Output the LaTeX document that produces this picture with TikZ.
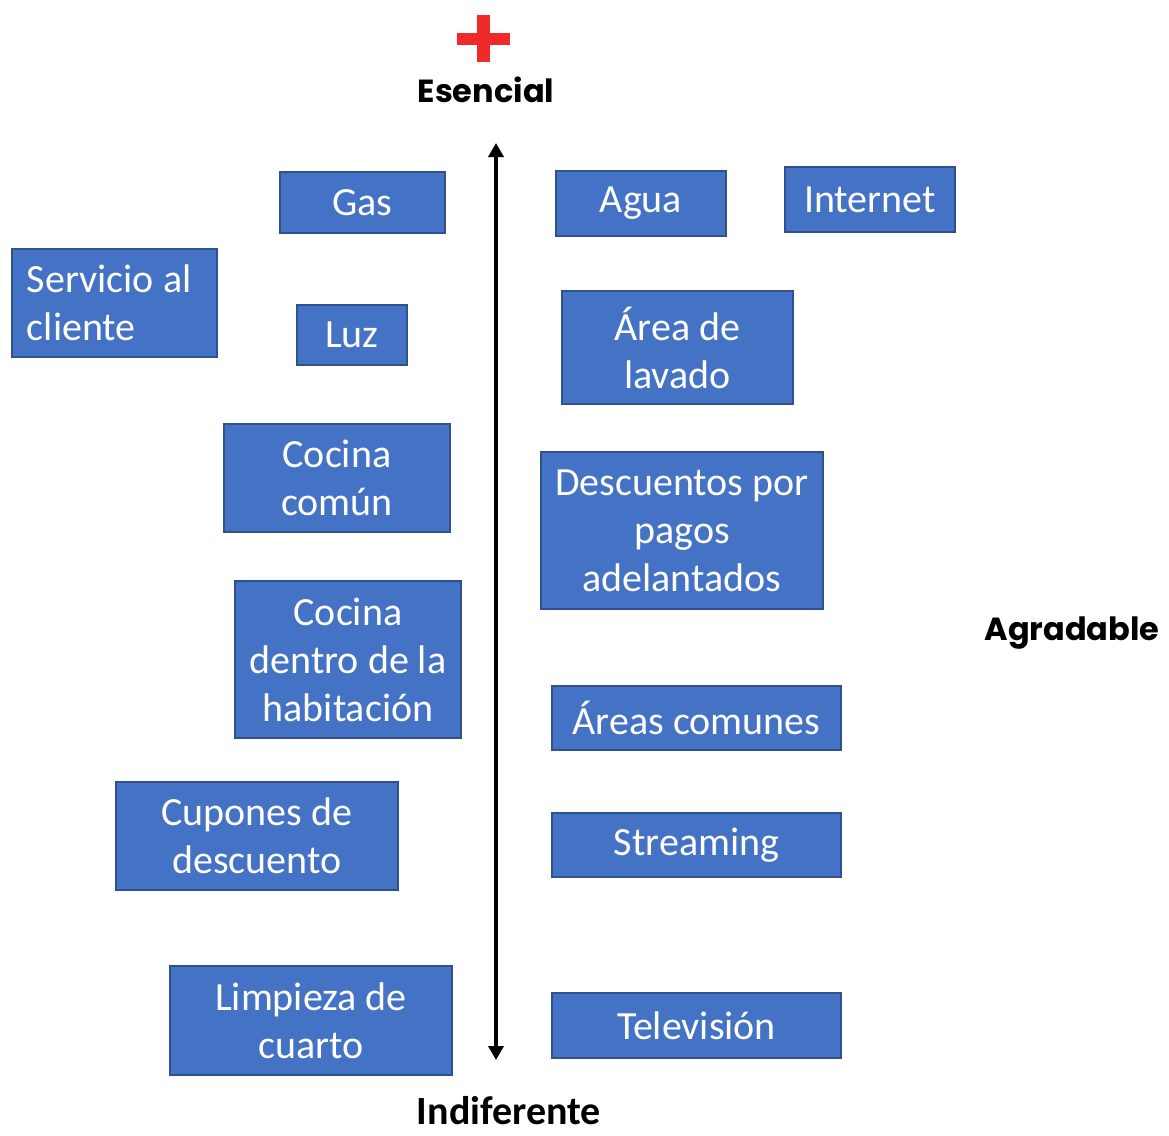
\documentclass[tikz,border=0pt]{standalone}
\usepackage{fontspec}
\setmainfont{Carlito}
\newfontfamily\popfont{Poppins}
\usetikzlibrary{arrows.meta}
\definecolor{boxblue}{HTML}{4472C4}
\definecolor{boxedge}{HTML}{2F528F}
\definecolor{crossred}{HTML}{EE2A2A}
\tikzset{
  bluebox/.style={draw=boxedge, line width=1.2pt, fill=boxblue, text=white, inner sep=0pt, align=center,
    font=\fontsize{40}{48}\selectfont},
  axislabel/.style={inner sep=0pt, text=black}
}
\newcommand{\bx}[7][]{% opts, name, x1, y1, x2, y2, text
  \node[bluebox, minimum width={#5-#3}, minimum height={#6-#4}, #1] (#2) at ({(#3+#5)/2},{(#4+#6)/2}) {#7};}
\begin{document}
\begin{tikzpicture}[x=1pt,y=-1pt]
\useasboundingbox (0,0) rectangle (1169,1135);
% red cross
\fill[crossred] (477,15) rectangle (490,62);
\fill[crossred] (457,33) rectangle (510,45);
\node[axislabel, font=\popfont\bfseries\fontsize{32}{36}\selectfont] (esencial) at (486,90) {Esencial};
\node[axislabel, font=\popfont\bfseries\fontsize{32}{36}\selectfont] (agradable) at (1072,633) {Agradable};
\node[axislabel, anchor=base, font=\bfseries\fontsize{40}{44}\selectfont] (indif) at (509,1124) {Indiferente};
\coordinate (top) at (496,143);
\coordinate (bot) at (496,1060);
\draw[line width=3.5pt, {Triangle[width=15pt,length=14pt]}-{Triangle[width=15pt,length=14pt]}] (top) -- (bot);
\bx{gas}{280}{172}{445}{233}{Gas}
\bx{agua}{556}{171}{726}{236}{Agua}
\bx{internet}{785}{167}{955}{232}{Internet}
\bx[text width=175pt, align=flush left]{servicio}{12}{249}{217}{357}{Servicio al\\cliente}
\bx{luz}{297}{305}{407}{365}{Luz}
\bx{lavado}{562}{291}{793}{404}{Área de\\lavado}
\bx{cocina}{224}{424}{450}{532}{Cocina\\común}
\bx{descuentos}{541}{452}{823}{609}{Descuentos por\\pagos\\adelantados}
\bx{cocinahab}{235}{581}{461}{738}{Cocina\\dentro de la\\habitación}
\bx{areas}{552}{686}{841}{750}{Áreas comunes}
\bx{cupones}{116}{782}{398}{890}{Cupones de\\descuento}
\bx{streaming}{552}{813}{841}{877}{Streaming}
\bx{limpieza}{170}{966}{452}{1075}{Limpieza de\\cuarto}
\bx{tele}{552}{993}{841}{1058}{Televisión}
\end{tikzpicture}
\end{document}
